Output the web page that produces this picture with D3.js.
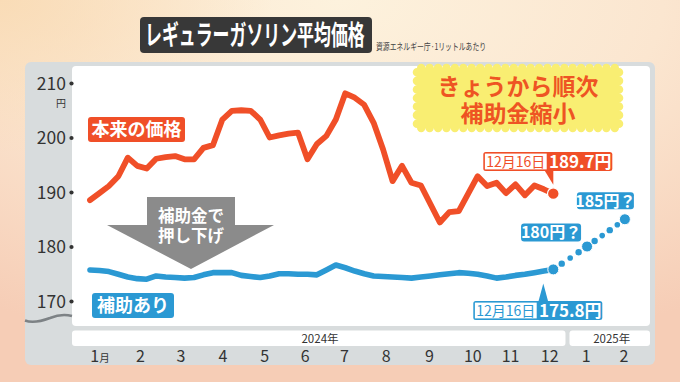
<!DOCTYPE html>
<html><head><meta charset="utf-8">
<script src="https://cdn.jsdelivr.net/npm/d3@7"></script>
<style>
body{margin:0;overflow:hidden;background:#fbeedd}
svg{display:block}
text{font-family:"Noto Sans CJK JP","Noto Sans",sans-serif}
</style>
</head><body>
<svg id="c" width="680" height="382"></svg>
<script>
// ---------- DATA ----------
const dates = ["2024-01-08","2024-01-15","2024-01-22","2024-01-29","2024-02-05","2024-02-12","2024-02-19","2024-02-26",
"2024-03-04","2024-03-11","2024-03-18","2024-03-25","2024-04-01","2024-04-08","2024-04-15","2024-04-22","2024-04-29",
"2024-05-06","2024-05-13","2024-05-20","2024-05-27","2024-06-03","2024-06-10","2024-06-17","2024-06-24",
"2024-07-01","2024-07-08","2024-07-15","2024-07-22","2024-07-29","2024-08-05","2024-08-12","2024-08-19","2024-08-26",
"2024-09-02","2024-09-09","2024-09-16","2024-09-23","2024-09-30","2024-10-07","2024-10-14","2024-10-21","2024-10-28",
"2024-11-04","2024-11-11","2024-11-18","2024-11-25","2024-12-02","2024-12-09","2024-12-16"];
const basePrice = [188.5,189.8,191.1,192.9,196.3,194.8,194.3,196.1,196.4,196.6,196.0,196.0,198.1,198.6,203.3,204.9,205.0,
204.9,203.3,200.0,200.4,200.7,200.9,196.0,198.8,200.3,203.3,208.1,207.3,206.0,202.7,197.8,192.0,194.8,
191.7,191.2,187.8,184.4,186.3,186.5,189.7,192.9,191.1,191.7,189.8,191.4,189.4,191.2,190.5,189.7];
const subsidized = [175.7,175.6,175.4,174.9,174.4,174.1,174.0,174.6,174.4,174.3,174.2,174.3,174.8,175.2,175.2,175.2,174.7,
174.5,174.3,174.6,175.0,175.0,174.9,174.9,174.8,175.7,176.6,176.1,175.5,175.0,174.6,174.5,174.4,174.3,
174.2,174.4,174.6,174.8,175.0,175.2,175.1,174.9,174.6,174.2,174.4,174.7,174.9,175.2,175.5,175.8];
const forecastDates = ["2024-12-16","2025-01-10","2025-02-07"];
const forecastValues = [175.8,180,185];
const forecastLabels = ["","180円？","185円？"];
const yTicks = [170,180,190,200,210];
const monthDates = ["2024-01-15","2024-02-14","2024-03-15","2024-04-15","2024-05-16","2024-06-15","2024-07-14",
"2024-08-14","2024-09-15","2024-10-17","2024-11-14","2024-12-13","2025-01-09","2025-02-06"];
const monthLabels = ["1","2","3","4","5","6","7","8","9","10","11","12","1","2"];
const yearLabels = ["2024年","2025年"];
const titleText = "レギュラーガソリン平均価格";
const sourceText = "資源エネルギー庁·1リットルあたり";
const baseLabel = "本来の価格", subLabel = "補助あり";
const arrowText = ["補助金で","押し下げ"];
const burstText = ["きょうから順次","補助金縮小"];
const lastDateLabel = "12月16日";

// ---------- SETUP ----------
const RED = "#f04f28", BLUE = "#2b99d3";
const parse = d3.timeParse("%Y-%m-%d");
const svg = d3.select("#c");
const defs = svg.append("defs");
const rg = defs.append("radialGradient").attr("id","bg").attr("cx","50%").attr("cy","0%").attr("r","95%");
rg.append("stop").attr("offset","0%").attr("stop-color","#fdf2dd");
rg.append("stop").attr("offset","50%").attr("stop-color","#fbe6d0");
rg.append("stop").attr("offset","100%").attr("stop-color","#f6cdb6");
const rg2 = defs.append("radialGradient").attr("id","tl").attr("cx","0%").attr("cy","0%").attr("r","40%");
rg2.append("stop").attr("offset","0%").attr("stop-color","#f9dbb4").attr("stop-opacity",0.9);
rg2.append("stop").attr("offset","100%").attr("stop-color","#f9dbb4").attr("stop-opacity",0);
svg.append("rect").attr("width",680).attr("height",382).attr("fill","url(#bg)");
svg.append("rect").attr("width",680).attr("height",382).attr("fill","url(#tl)");

const x = d3.scaleTime().domain([parse(dates[0]), parse(dates[dates.length-1])]).range([90, 553.3]);
const y = d3.scaleLinear().domain([170,210]).range([301, 83]);

// panel
svg.append("rect").attr("x",25).attr("y",62).attr("width",630).attr("height",303).attr("rx",6).attr("fill","#d8dcdd");
svg.append("rect").attr("x",72).attr("y",66).attr("width",578).attr("height",260).attr("rx",4).attr("fill","#fff");
svg.append("path").attr("d","M25,320.5 C33,323.5 42,321 50,318 C56,315.5 63,313.5 72,316")
  .attr("fill","none").attr("stroke","#7d8285").attr("stroke-width",2.6);

// year strips
const mx = monthDates.map(d=>x(parse(d)));
const split = (mx[11]+mx[12])/2;
const strips = [[72, split-2],[split+2, 650]];
strips.forEach(s=>{
  svg.append("rect").attr("x",s[0]).attr("y",330.5).attr("width",s[1]-s[0]).attr("height",15.5).attr("rx",3).attr("fill","#fff");
});
svg.append("text").attr("x",320).attr("y",343).attr("text-anchor","middle").attr("font-size",11.5).attr("fill","#333").text(yearLabels[0]);
svg.append("text").attr("x",(strips[1][0]+strips[1][1])/2+2).attr("y",343).attr("text-anchor","middle").attr("font-size",11.5).attr("fill","#333").text(yearLabels[1]);

// y axis
const ya = svg.append("g").attr("transform","translate(72,0)")
  .call(d3.axisLeft(y).tickValues(yTicks).tickSize(0).tickPadding(6).tickFormat(d3.format("d")));
ya.select(".domain").remove();
ya.selectAll("text").attr("font-size",17.5).attr("fill","#333").attr("font-family",'"Noto Sans CJK JP",sans-serif').attr("dy","0.36em");
ya.selectAll(".tick").append("circle").attr("cx",-0.5).attr("r",2.1).attr("fill","#333");
svg.append("text").attr("x",61).attr("y",y(210)+23.5).attr("text-anchor","middle").attr("font-size",10).attr("fill","#333").text("円");

// x axis
const xa = svg.append("g").attr("transform","translate(0,346)")
  .call(d3.axisBottom(x).tickValues(monthDates.map(parse)).tickSize(0).tickPadding(5).tickFormat((d,i)=>monthLabels[i]));
xa.select(".domain").remove();
xa.selectAll("text").attr("font-size",16).attr("fill","#333").attr("font-family",'"Noto Sans CJK JP",sans-serif');
xa.select(".tick text").append("tspan").attr("font-size",10.5).text("月");

// arrow
svg.append("path").attr("d","M147,197 L235,197 L235,225 L274,225 L191,269 L107,225 L147,225 Z").attr("fill","#8b8b8b");
const at = svg.append("text").attr("text-anchor","middle").attr("font-size",16.5).attr("font-weight","bold").attr("fill","#fff");
arrowText.forEach((t,i)=>at.append("tspan").attr("x",191).attr("y",222+i*19.5).text(t));

// lines
const base = dates.map((d,i)=>({d:parse(d), v:basePrice[i]}));
const sub = dates.map((d,i)=>({d:parse(d), v:subsidized[i]}));
const line = d3.line().x(p=>x(p.d)).y(p=>y(p.v));
svg.append("path").datum(base).attr("d",line).attr("fill","none").attr("stroke",RED).attr("stroke-width",5.8)
  .attr("stroke-linejoin","round").attr("stroke-linecap","round");
svg.append("path").datum(sub).attr("d",line).attr("fill","none").attr("stroke",BLUE).attr("stroke-width",5.6)
  .attr("stroke-linejoin","round").attr("stroke-linecap","round");

// forecast dots
const fc = forecastDates.map((d,i)=>({x:x(parse(d)), y:y(forecastValues[i])}));
[3,4].forEach((n,k)=>{
  const a=fc[k], b=fc[k+1];
  for(let j=1;j<=n;j++){
    const t=j/(n+1);
    svg.append("circle").attr("cx",a.x+(b.x-a.x)*t).attr("cy",a.y+(b.y-a.y)*t).attr("r",j%2? 3.2:2.8).attr("fill",BLUE);
  }
});
fc.forEach(p=>svg.append("circle").attr("cx",p.x).attr("cy",p.y).attr("r",5.5).attr("fill",BLUE).attr("stroke","#fff").attr("stroke-width",1));

// end dot
const eR = {x:x(base[base.length-1].d), y:y(base[base.length-1].v)};
svg.append("circle").attr("cx",eR.x).attr("cy",eR.y).attr("r",5.8).attr("fill",RED).attr("stroke","#fff").attr("stroke-width",1.2);

// label boxes
function tag(x0,y0,w,h,fill,txt,fs){
  svg.append("rect").attr("x",x0).attr("y",y0).attr("width",w).attr("height",h).attr("rx",3).attr("fill",fill);
  svg.append("text").attr("x",x0+w/2).attr("y",y0+h/2).attr("dy","0.36em").attr("text-anchor","middle")
    .attr("font-size",fs).attr("font-weight","bold").attr("fill","#fff").text(txt);
}
tag(88,117,97,25,RED,baseLabel,18);
tag(92,293,82,25,BLUE,subLabel,18);
tag(fc[1].x-66,fc[1].y-23,60,18,BLUE,forecastLabels[1],16);
tag(fc[2].x-48,fc[2].y-27,57,17,BLUE,forecastLabels[2],16);

// callouts
function callout(cx, cy, boxY, color, valueTxt, up){
  const L = cx-70, M = cx-5, R = cx+59, h=19;
  if(up){
    svg.append("path").attr("d",`M${cx-5},${boxY+1} L${cx},${cy+14} L${cx+5},${boxY+1} Z`).attr("fill",color);
  } else {
    svg.append("path").attr("d",`M${cx-9},${boxY+h-1} L${cx},${cy-9} L${cx},${boxY+h-1} Z`).attr("fill",color);
  }
  svg.append("rect").attr("x",L).attr("y",boxY).attr("width",R-L).attr("height",h).attr("rx",2.5).attr("fill",color);
  svg.append("rect").attr("x",L+1.6).attr("y",boxY+1.6).attr("width",M-L-3.2).attr("height",h-3.2).attr("fill","#fff");
  svg.append("text").attr("x",(L+M)/2).attr("y",boxY+h/2).attr("dy","0.36em").attr("text-anchor","middle")
    .attr("font-size",14).attr("fill",color).text(lastDateLabel);
  svg.append("text").attr("x",(M+R)/2).attr("y",boxY+h/2).attr("dy","0.37em").attr("text-anchor","middle")
    .attr("font-size",17).attr("font-weight","bold").attr("fill","#fff").text(valueTxt);
}
callout(eR.x, eR.y, 152, RED, basePrice[basePrice.length-1].toFixed(1)+"円", false);
callout(fc[0].x-10, fc[0].y, 301, BLUE, subsidized[subsidized.length-1].toFixed(1)+"円", true);

// burst
function scallop(x0,y0,x1,y1,r){
  const nx = Math.round((x1-x0)/(2*r)), ny = Math.round((y1-y0)/(2*r));
  const sx=(x1-x0)/nx, sy=(y1-y0)/ny;
  let p=`M${x0},${y0}`;
  for(let i=0;i<nx;i++) p+=` A${sx/2},${sx/2} 0 0 1 ${x0+sx*(i+1)},${y0}`;
  for(let i=0;i<ny;i++) p+=` A${sy/2},${sy/2} 0 0 1 ${x1},${y0+sy*(i+1)}`;
  for(let i=0;i<nx;i++) p+=` A${sx/2},${sx/2} 0 0 1 ${x1-sx*(i+1)},${y1}`;
  for(let i=0;i<ny;i++) p+=` A${sy/2},${sy/2} 0 0 1 ${x0},${y1-sy*(i+1)}`;
  return p+"Z";
}
svg.append("path").attr("d",scallop(417,68,619,128,4.2)).attr("fill","#f9ee72");
const bt = svg.append("text").attr("text-anchor","middle").attr("font-size",23).attr("font-weight","bold").attr("fill","#ee5423");
burstText.forEach((t,i)=>bt.append("tspan").attr("x",518).attr("y",95.3+i*27).text(t));

// title
svg.append("rect").attr("x",140).attr("y",17).attr("width",232).attr("height",36).attr("rx",4).attr("fill","#383838");
svg.append("text").attr("transform","translate(145,35) scale(0.615,1)").attr("dy","0.36em").attr("font-size",27.5).attr("font-weight","bold")
  .attr("fill","#fff").text(titleText);
svg.append("text").attr("transform","translate(376,50) scale(0.72,1)").attr("font-size",9.5).attr("fill","#444").text(sourceText);
</script>
</body></html>
